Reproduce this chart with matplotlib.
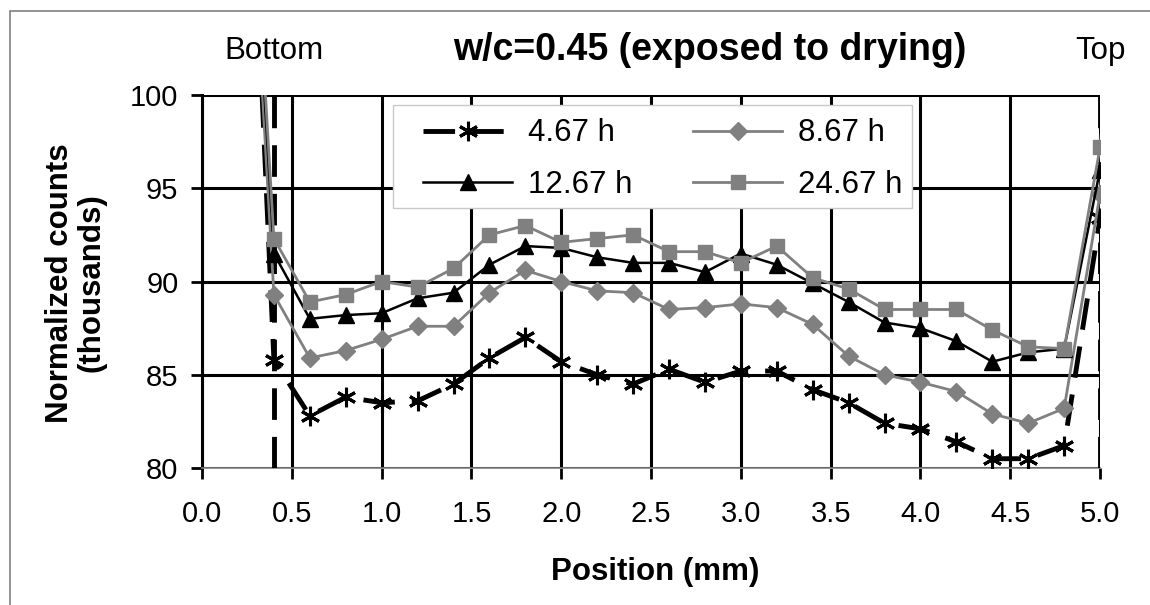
import matplotlib
matplotlib.use('Agg')
import matplotlib.pyplot as plt
from matplotlib.patches import Rectangle

plt.rcParams['font.family'] = ['Liberation Sans', 'DejaVu Sans']

# positions (mm); first and last points lie off the chart (surface peaks)
position = [0.2, 0.4, 0.6, 0.8, 1.0, 1.2, 1.4, 1.6, 1.8, 2.0, 2.2, 2.4, 2.6,
            2.8, 3.0, 3.2, 3.4, 3.6, 3.8, 4.0, 4.2, 4.4, 4.6, 4.8, 5.0, 5.2]

# normalized counts (thousands)
h4_67 = [129.0, 85.8, 82.8, 83.8, 83.5, 83.6, 84.5, 85.9, 87.0, 85.7, 85.0, 84.5, 85.3,
         84.6, 85.2, 85.2, 84.2, 83.5, 82.4, 82.1, 81.4, 80.5, 80.5, 81.2, 93.4, 135.0]
h8_67 = [123.0, 89.3, 85.9, 86.3, 86.9, 87.6, 87.6, 89.4, 90.6, 90.0, 89.5, 89.4, 88.5,
         88.6, 88.8, 88.6, 87.7, 86.0, 85.0, 84.6, 84.1, 82.9, 82.4, 83.2, 94.7, 118.0]
h12_67 = [124.0, 91.5, 88.0, 88.2, 88.3, 89.1, 89.4, 90.9, 91.9, 91.8, 91.3, 91.0, 91.0,
          90.5, 91.5, 90.9, 89.9, 88.9, 87.8, 87.5, 86.8, 85.7, 86.2, 86.4, 96.0, 125.0]
h24_67 = [125.0, 92.3, 88.9, 89.3, 90.0, 89.7, 90.7, 92.5, 93.0, 92.1, 92.3, 92.5, 91.6,
          91.6, 91.0, 91.9, 90.2, 89.6, 88.5, 88.5, 88.5, 87.4, 86.5, 86.4, 97.2, 120.0]

boundaries = [0.4, 5.0]
boundary_names = ['Bottom', 'Top']

fig = plt.figure(figsize=(11.5, 6.05), dpi=100)
ax = fig.add_axes([0.1757, 0.2264, 0.7809, 0.6166])

# thin frame round the chart area (cut off right/bottom like the original)
fig.patches.append(Rectangle((10 / 1150, -0.2), 1.2, 1.2 - 11 / 605,
                             transform=fig.transFigure, fill=False,
                             edgecolor='#808080', linewidth=1.2))

gray = '#808080'

# boundary markers
for b in boundaries:
    ax.axvline(b, color='black', linewidth=3.5, dashes=(6.5, 3.5), zorder=3)

l1, = ax.plot(position, h4_67, color='black', linewidth=3.5, dashes=(6.5, 3.5),
              marker=(6, 2, 0), markersize=14, markeredgewidth=2.2,
              markeredgecolor='black', label='4.67 h', zorder=4)
l2, = ax.plot(position, h8_67, color=gray, linewidth=2, marker='D', markersize=9,
              markerfacecolor=gray, markeredgecolor=gray, label='8.67 h', zorder=4)
l3, = ax.plot(position, h12_67, color='black', linewidth=1.8, marker='^', markersize=11,
              markerfacecolor='black', label='12.67 h', zorder=4)
l4, = ax.plot(position, h24_67, color=gray, linewidth=2, marker='s', markersize=9.5,
              markerfacecolor=gray, markeredgecolor=gray, label='24.67 h', zorder=4)

ax.set_xlim(0, 5)
ax.set_ylim(80, 100)
ax.set_xticks([0.0, 0.5, 1.0, 1.5, 2.0, 2.5, 3.0, 3.5, 4.0, 4.5, 5.0])
ax.set_xticklabels(['0.0', '0.5', '1.0', '1.5', '2.0', '2.5', '3.0', '3.5', '4.0', '4.5', '5.0'])
ax.set_yticks([80, 85, 90, 95, 100])
ax.grid(True, color='black', linewidth=2.2)
ax.set_axisbelow(True)
ax.tick_params(axis='both', labelsize=21, length=8, width=2, color='black')
ax.tick_params(axis='x', pad=15)
ax.tick_params(axis='y', pad=9)

for side in ['top', 'right']:
    ax.spines[side].set_visible(False)
ax.spines['left'].set_color('black')
ax.spines['left'].set_linewidth(2.2)
ax.spines['bottom'].set_color(gray)
ax.spines['bottom'].set_linewidth(1.2)

# Bottom / Top labels centred on the boundaries
for b, name in zip(boundaries, boundary_names):
    ax.text(b, 1.118, name, transform=ax.get_xaxis_transform(), ha='center',
            va='center', fontsize=22.5, clip_on=False)

fig.text(710 / 1150, 1 - 50 / 605, 'w/c=0.45 (exposed to drying)', ha='center',
         va='center', fontsize=27, fontweight='bold')
fig.text(76 / 1150, 1 - 283 / 605, 'Normalized counts\n(thousands)', rotation=90,
         ha='center', va='center', multialignment='center', fontsize=22.5,
         fontweight='bold', linespacing=1.05)
fig.text(655 / 1150, 1 - 572 / 605, 'Position (mm)', ha='center', va='center',
         fontsize=22.5, fontweight='bold')

# legend box drawn separately so its size can follow the original
ax.add_patch(Rectangle((0.2127, 0.697), 0.578, 0.276, transform=ax.transAxes,
                       facecolor='white', edgecolor='#c8c8c8', linewidth=1,
                       zorder=5, clip_on=False))
leg = ax.legend(handles=[l1, l3, l2, l4], ncol=2, loc='upper left',
                bbox_to_anchor=(0.2461, 0.937), borderaxespad=0, fontsize=22.5,
                numpoints=1, handlelength=2.85, handletextpad=0.5, columnspacing=1.95,
                labelspacing=0.68, borderpad=0, frameon=False)
leg.set_zorder(6)

fig.savefig('out.png', dpi=100, facecolor='white')
